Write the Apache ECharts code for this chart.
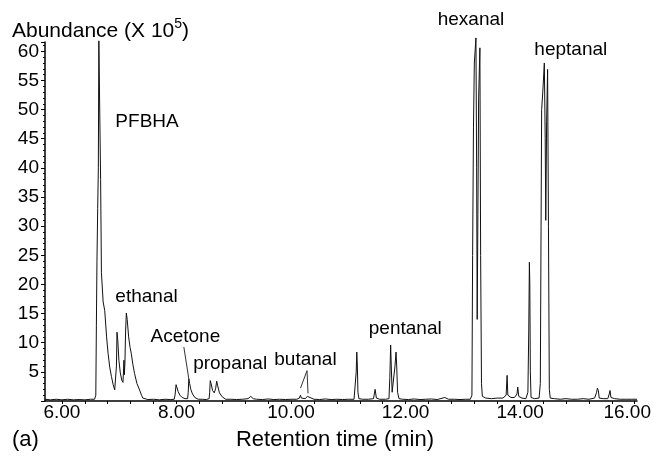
<!DOCTYPE html>
<html>
<head>
<meta charset="utf-8">
<script src="https://cdn.jsdelivr.net/npm/echarts@6/dist/echarts.min.js"></script>
<style>
html,body{margin:0;padding:0;background:#fff;}
#chart{width:654px;height:461px;}
</style>
</head>
<body>
<div id="chart"></div>
<script>
// Retention time (min) and abundance (x 10^5)
const retentionTime = [
5.705,5.80,5.90,6.00,6.10,6.20,6.30,6.40,6.50,6.57,
6.592,6.602,6.612,6.625,6.636,6.645,6.668,6.676,6.690,6.720,
6.748,6.78,6.806,6.835,6.865,6.895,6.922,6.940,6.952,6.962,
6.975,6.995,7.02,7.045,7.066,7.075,7.083,7.090,7.10,7.112,
7.125,7.14,7.165,7.19,7.212,7.24,7.269,7.31,7.356,7.39,
7.413,7.44,7.50,7.60,7.70,7.80,7.90,7.96,7.975,7.993,
8.005,8.03,8.06,8.10,8.15,8.195,8.205,8.216,8.23,8.25,
8.28,8.32,8.38,8.45,8.52,8.57,8.58,8.590,8.605,8.63,
8.66,8.685,8.702,8.72,8.75,8.80,8.86,8.95,9.05,9.15,
9.25,9.297,9.34,9.40,9.50,9.60,9.70,9.80,9.90,10.0,
10.10,10.145,10.165,10.18,10.25,10.285,10.297,10.31,10.40,10.50,
10.60,10.70,10.80,10.90,11.00,11.10,11.125,11.138,11.148,11.158,
11.168,11.185,11.25,11.35,11.44,11.468,11.49,11.55,11.65,11.71,
11.725,11.739,11.75,11.765,11.79,11.815,11.833,11.845,11.86,11.885,
11.95,12.05,12.15,12.25,12.35,12.45,12.55,12.684,12.75,12.85,
12.95,13.05,13.13,13.158,13.17,13.185,13.20,13.228,13.24,13.25,
13.262,13.275,13.297,13.31,13.325,13.34,13.40,13.50,13.60,13.70,
13.755,13.772,13.785,13.84,13.90,13.945,13.958,13.975,14.03,14.10,
14.135,14.150,14.161,14.168,14.178,14.19,14.25,14.33,14.352,14.365,
14.375,14.395,14.422,14.437,14.447,14.462,14.479,14.494,14.509,14.525,
14.60,14.70,14.80,14.90,15.00,15.10,15.20,15.30,15.335,15.348,
15.365,15.38,15.45,15.53,15.555,15.568,15.585,15.65,15.75,15.85,
15.95,16.04
];
const abundance = [
0.3,0.2,0.3,0.2,0.3,0.2,0.25,0.2,0.3,0.3,
1.0,13,24,33,40,61.8,61.8,38,22,17,
15.5,11,8.2,5.8,4.2,2.8,1.9,1.7,6,11.8,
10.5,7,4.8,3.6,3.2,5,7,4.5,6.5,12,
15.1,14,11,9.2,8.1,6.2,4.7,3,1.9,1,
0.5,0.3,0.25,0.3,0.2,0.3,0.25,0.3,1.0,2.8,
2.6,1.6,1.0,0.6,0.4,0.4,1.5,3.8,3.0,2.0,
1.2,0.6,0.3,0.3,0.25,0.4,1.5,3.5,3.0,1.8,
1.4,2.2,3.4,2.6,1.4,0.7,0.3,0.3,0.25,0.3,
0.4,0.8,0.4,0.3,0.25,0.35,0.25,0.3,0.25,0.3,
0.3,0.5,1.0,0.5,0.4,0.8,1.0,0.5,0.3,0.25,
0.35,0.25,0.3,0.25,0.3,0.3,0.6,5,8.4,6,
1.5,0.4,0.3,0.3,0.4,2.0,0.5,0.3,0.3,0.4,
4,9.6,6,1.5,1.2,6,8.4,6,1.5,0.4,
0.3,0.25,0.35,0.25,0.3,0.35,0.25,0.6,0.3,0.3,
0.25,0.3,0.3,1.0,25,47,58,62.3,40,14,
32,52,60.6,25,3,0.8,0.5,0.4,0.5,0.5,
1.0,4.4,1.0,0.6,0.6,1.2,2.4,0.8,0.5,0.4,
1.5,12,23.8,20.4,5,0.6,0.4,0.5,3,30,
50,53,58.0,45,31,48,56.9,30,2,0.5,
0.4,0.3,0.4,0.3,0.3,0.4,0.3,0.5,1.5,2.2,
1.8,0.5,0.4,0.4,1.2,1.8,0.6,0.4,0.3,0.3,
0.3,0.3
];

// Peak annotations (data coordinates of the label centres)
const peakNames = ['PFBHA','ethanal','Acetone','propanal','butanal','pentanal','hexanal','heptanal'];
const peakLabelTime = [7.486, 7.477, 8.155, 8.937, 10.252, 11.994, 13.141, 14.884];
const peakLabelAbundance = [47.9, 17.8, 11.0, 6.35, 7.15, 12.35, 65.35, 60.2];

// Leader lines from labels to peaks
const acetoneLeaderTime = [8.129, 8.216];
const acetoneLeaderAbundance = [9.26, 3.77];
const butanalLeaderTime = [10.165, 10.279, 10.297];
const butanalLeaderAbundance = [2.2, 5.2, 1.3];

// Axis ticks
const xLabelValues = [6, 8, 10, 12, 14, 16];
const xTickValues = [6,6.4,6.8,7.2,7.6,8,8.4,8.8,9.2,9.6,10,10.4,10.8,11.2,11.6,12,12.4,12.8,13.2,13.6,14,14.4,14.8,15.2,15.6,16];
const yMax = 61.6;

const FONT = 'Liberation Sans, Arial, Helvetica, sans-serif';

const traceData = retentionTime.map((t, i) => [t, abundance[i]]);
const labelData = peakNames.map((n, i) => [peakLabelTime[i], peakLabelAbundance[i], n]);
const acetoneLeader = acetoneLeaderTime.map((t, i) => [t, acetoneLeaderAbundance[i]]);
const butanalLeader = butanalLeaderTime.map((t, i) => [t, butanalLeaderAbundance[i]]);

const chart = echarts.init(document.getElementById('chart'), null, {renderer: 'canvas'});
chart.setOption({
  animation: false,
  backgroundColor: '#fff',
  textStyle: {fontFamily: FONT},
  grid: {left: 45, right: 14, top: 42, bottom: 60, containLabel: false},
  xAxis: {
    type: 'value',
    min: 5.705,
    max: 16.04,
    name: 'Retention time (min)',
    nameLocation: 'middle',
    nameGap: 28,
    nameTextStyle: {fontSize: 22, color: '#000', fontFamily: FONT, padding: [0, 12, 0, 0]},
    axisLine: {show: true, onZero: false, lineStyle: {color: '#000', width: 1.5}},
    axisTick: {show: true, customValues: xTickValues, length: 3, lineStyle: {color: '#000', width: 1}},
    axisLabel: {
      customValues: xLabelValues,
      margin: 2,
      fontSize: 19,
      color: '#000',
      fontFamily: FONT,
      formatter: v => (v === 16 ? '{last|' + v.toFixed(2) + '}' : v.toFixed(2)),
      rich: {last: {fontSize: 19, color: '#000', fontFamily: FONT, padding: [0, 15, 0, 0]}}
    },
    splitLine: {show: false}
  },
  yAxis: {
    type: 'value',
    min: 0,
    max: yMax,
    interval: 5,
    axisLine: {show: true, lineStyle: {color: '#000', width: 1.5}},
    axisTick: {show: true, length: 4, lineStyle: {color: '#000', width: 1}},
    minorTick: {show: true, splitNumber: 5, length: 2, lineStyle: {color: '#000', width: 1}},
    axisLabel: {
      margin: 6,
      fontSize: 19,
      color: '#000',
      fontFamily: FONT,
      formatter: v => (v === 0 ? '' : String(v))
    },
    splitLine: {show: false}
  },
  graphic: [
    {
      type: 'text', left: 12, top: 17,
      style: {
        text: '{m|Abundance (X 10}{sup|5}{m|)}',
        fill: '#000',
        rich: {
          m: {fontSize: 21, fontFamily: FONT, lineHeight: 25, verticalAlign: 'bottom', fill: '#000'},
          sup: {fontSize: 14, fontFamily: FONT, lineHeight: 14, verticalAlign: 'top', fill: '#000'}
        }
      }
    },
    {
      type: 'text', left: 12, top: 429,
      style: {text: '(a)', font: '22px ' + FONT, fill: '#000'}
    }
  ],
  series: [
    {
      type: 'line',
      data: traceData,
      symbol: 'none',
      clip: false,
      lineStyle: {color: '#111', width: 1},
      silent: true
    },
    {
      type: 'line',
      data: acetoneLeader,
      symbol: 'none',
      clip: false,
      lineStyle: {color: '#333', width: 1},
      silent: true
    },
    {
      type: 'line',
      data: butanalLeader,
      symbol: 'none',
      clip: false,
      lineStyle: {color: '#333', width: 1},
      silent: true
    },
    {
      type: 'scatter',
      data: labelData,
      symbolSize: 0,
      clip: false,
      silent: true,
      itemStyle: {opacity: 1},
      label: {
        show: true,
        position: 'inside',
        formatter: p => p.value[2],
        fontSize: 19,
        color: '#000',
        opacity: 1,
        textBorderWidth: 0,
        fontFamily: FONT
      }
    }
  ]
});
</script>
</body>
</html>
